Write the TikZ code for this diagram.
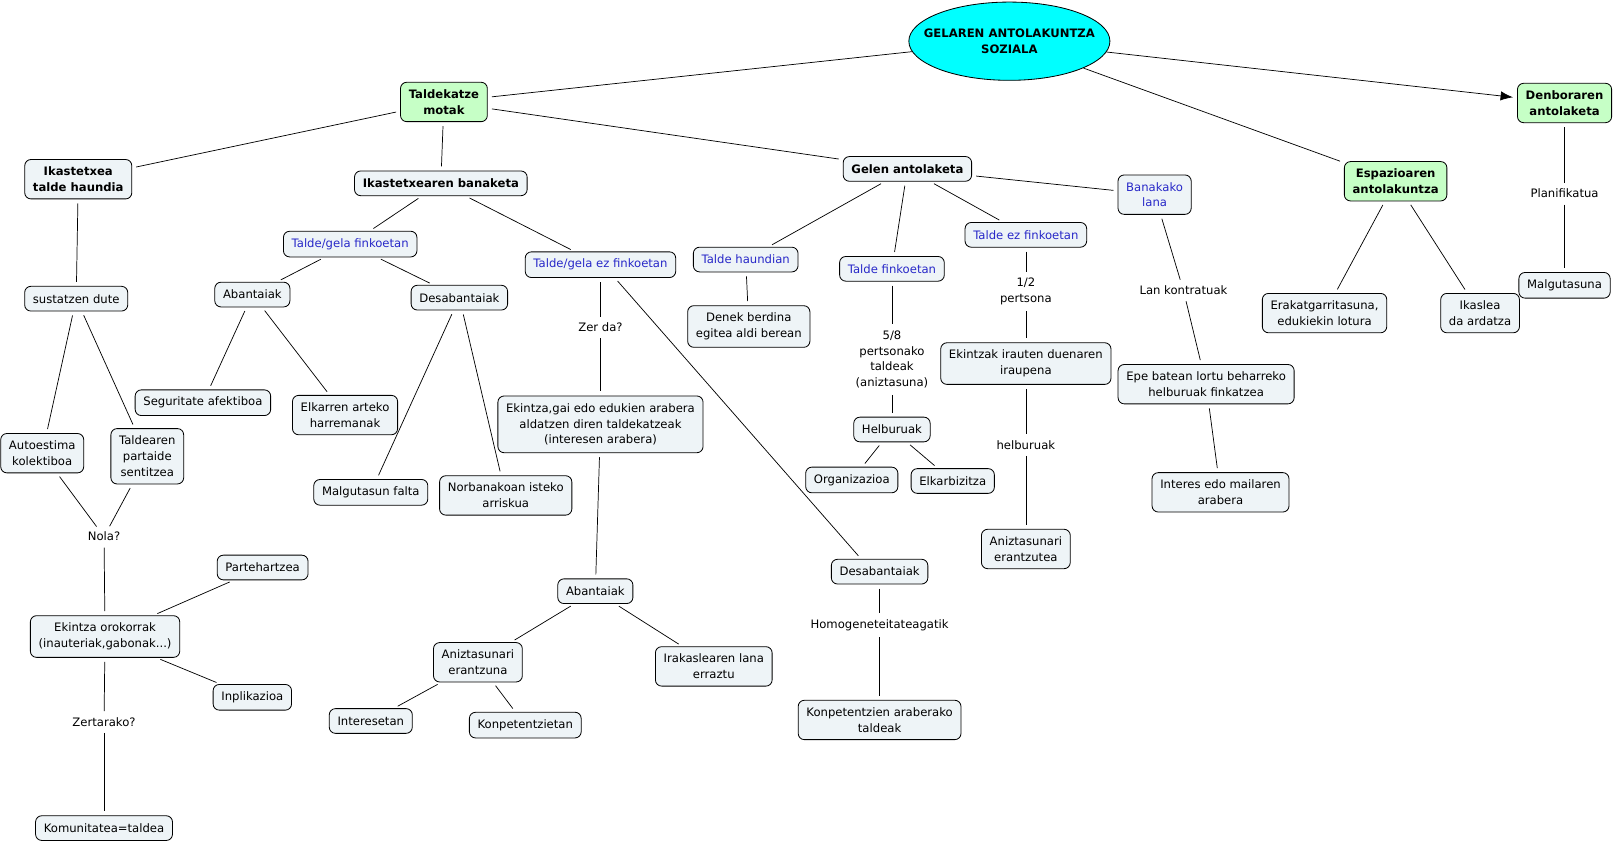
\documentclass[tikz,border=0pt]{standalone}
\usepackage{fontspec}
\setmainfont{DejaVu Sans}
\usepackage{xcolor}
\definecolor{Col1}{RGB}{0,255,255}
\definecolor{Col2}{RGB}{198,255,198}
\definecolor{Col3}{RGB}{238,244,247}
\definecolor{Col4}{RGB}{40,40,200}
\usepackage{tikz}
\usetikzlibrary{shapes}
\usetikzlibrary{arrows.meta}
\newcommand{\MapFont}{\fontsize{11.3}{15.5}\selectfont}
\tikzstyle{Root}=[ellipse,draw=black,fill=Col1,line width=0.8pt,
minimum width=195pt,minimum height=76pt,inner xsep=-14pt,inner ysep=0pt,
align=center,font=\MapFont\bfseries]
\tikzstyle{Concept}=[rectangle,rounded corners=6pt,draw=black,fill=Col3,
line width=0.8pt,align=center,inner xsep=8pt,inner ysep=7pt,
minimum height=24pt,font=\MapFont]
\tikzstyle{Topic}=[Concept,fill=Col2,font=\MapFont\bfseries]
\tikzstyle{Head}=[Concept,font=\MapFont\bfseries]
\tikzstyle{Case}=[Concept,text=Col4]
\tikzstyle{Link}=[align=center,inner sep=2pt,font=\MapFont]
\tikzstyle{Edge}=[draw=black,line width=0.7pt,shorten <=4pt,shorten >=4pt]

\begin{document}
\begin{tikzpicture}[x=1pt,y=-1pt]
        \useasboundingbox (0,0) rectangle (1568,818);
        \node[Root](root)at(980,40){GELAREN ANTOLAKUNTZA\\SOZIALA};
        \node[Topic](tm)at(431,99){Taldekatze\\motak};
        \node[Topic](da)at(1519,100){Denboraren\\antolaketa};
        \node[Topic](ea)at(1355,176){Espazioaren\\antolakuntza};
        \node[Head](ith)at(76,174){Ikastetxea\\talde haundia};
        \node[Head](ib)at(428,178){Ikastetxearen banaketa};
        \node[Head](ga)at(881,164){Gelen antolaketa};
        \node[Case](bl)at(1121,189){Banakako\\lana};
        \node[Case](tgf)at(340,237){Talde/gela finkoetan};
        \node[Case](tgez)at(583,257){Talde/gela ez finkoetan};
        \node[Case](th)at(724,252){Talde haundian};
        \node[Case](tf)at(866,261){Talde finkoetan};
        \node[Case](tez)at(996,228){Talde ez finkoetan};
        \node[Concept](ab1)at(245,286){Abantaiak};
        \node[Concept](ds1)at(446,289){Desabantaiak};
        \node[Concept](sd)at(74,290){sustatzen dute};
        \node[Concept](db)at(727,317){Denek berdina\\egitea aldi berean};
        \node[Concept](er)at(1286,304){Erakatgarritasuna,\\edukiekin lotura};
        \node[Concept](ik)at(1437,304){Ikaslea\\da ardatza};
        \node[Concept](mg)at(1519,277){Malgutasuna};
        \node[Concept](eki)at(996,353){Ekintzak irauten duenaren\\iraupena};
        \node[Concept](epe)at(1171,373){Epe batean lortu beharreko\\helburuak finkatzea};
        \node[Concept](sa)at(197,391){Seguritate afektiboa};
        \node[Concept](eh)at(335,403){Elkarren arteko\\harremanak};
        \node[Concept](egi)at(583,412){Ekintza,gai edo edukien arabera\\aldatzen diren taldekatzeak\\(interesen arabera)};
        \node[Concept](hb)at(866,417){Helburuak};
        \node[Concept](ak)at(41,440){Autoestima\\kolektiboa};
        \node[Concept](tps)at(143,443){Taldearen\\partaide\\sentitzea};
        \node[Concept](org)at(827,466){Organizazioa};
        \node[Concept](elk)at(925,467){Elkarbizitza};
        \node[Concept](mf)at(360,478){Malgutasun falta};
        \node[Concept](nia)at(491,481){Norbanakoan isteko\\arriskua};
        \node[Concept](iem)at(1185,478){Interes edo mailaren\\arabera};
        \node[Concept](ane)at(996,533){Aniztasunari\\erantzutea};
        \node[Concept](ds2)at(854,555){Desabantaiak};
        \node[Concept](ph)at(255,551){Partehartzea};
        \node[Concept](ab2)at(578,574){Abantaiak};
        \node[Concept](eo)at(102,618){Ekintza orokorrak\\(inauteriak,gabonak...)};
        \node[Concept](anz)at(464,643){Aniztasunari\\erantzuna};
        \node[Concept](ile)at(693,647){Irakaslearen lana\\erraztu};
        \node[Concept](inp)at(245,677){Inplikazioa};
        \node[Concept](int)at(360,700){Interesetan};
        \node[Concept](kon)at(510,704){Konpetentzietan};
        \node[Concept](kat)at(854,699){Konpetentzien araberako\\taldeak};
        \node[Concept](kt)at(101,804){Komunitatea=taldea};
        \node[Link](l1)at(1519,188){Planifikatua};
        \node[Link](l2)at(996,283){1/2\\pertsona};
        \node[Link](l3)at(1149,282){Lan kontratuak};
        \node[Link](l4)at(583,318){Zer da?};
        \node[Link](l5)at(866,349){5/8\\pertsonako\\taldeak\\(aniztasuna)};
        \node[Link](l6)at(996,432){helburuak};
        \node[Link](l7)at(101,521){Nola?};
        \node[Link](l8)at(854,607){Homogeneteitateagatik};
        \node[Link](l9)at(101,701){Zertarako?};
        \draw[Edge,shorten <=0pt](root)--(tm);
        \draw[Edge,shorten <=0pt,-{Latex[length=12pt,width=9pt]}](root)--(da);
        \draw[Edge,shorten <=0pt](root)--(ea);
        \draw[Edge](tm)--(ith);
        \draw[Edge](tm)--(ib);
        \draw[Edge](tm)--(ga);
        \draw[Edge](ga)--(th);
        \draw[Edge](ga)--(tf);
        \draw[Edge](ga)--(tez);
        \draw[Edge](ga)--(bl);
        \draw[Edge](ib)--(tgf);
        \draw[Edge](ib)--(tgez);
        \draw[Edge](tgf)--(ab1);
        \draw[Edge](tgf)--(ds1);
        \draw[Edge](ab1)--(sa);
        \draw[Edge](ab1)--(eh);
        \draw[Edge](ds1)--(mf);
        \draw[Edge](ds1)--(nia);
        \draw[Edge](tgez)--(l4);
        \draw[Edge](l4)--(egi);
        \draw[Edge]([xshift=14]tgez.south)--([xshift=-18]ds2.north);
        \draw[Edge](egi)--(ab2);
        \draw[Edge](ab2)--(anz);
        \draw[Edge](ab2)--(ile);
        \draw[Edge](anz)--(int);
        \draw[Edge](anz)--(kon);
        \draw[Edge](ds2)--(l8);
        \draw[Edge](l8)--(kat);
        \draw[Edge](th)--(db);
        \draw[Edge](tf)--(l5);
        \draw[Edge](l5)--(hb);
        \draw[Edge](hb)--(org);
        \draw[Edge](hb)--(elk);
        \draw[Edge](tez)--(l2);
        \draw[Edge](l2)--(eki);
        \draw[Edge](eki)--(l6);
        \draw[Edge](l6)--(ane);
        \draw[Edge](bl)--(l3);
        \draw[Edge](l3)--(epe);
        \draw[Edge](epe)--(iem);
        \draw[Edge](ea)--(er);
        \draw[Edge](ea)--(ik);
        \draw[Edge](da)--(l1);
        \draw[Edge](l1)--(mg);
        \draw[Edge](ith)--(sd);
        \draw[Edge](sd)--(ak);
        \draw[Edge](sd)--(tps);
        \draw[Edge](ak)--(l7);
        \draw[Edge](tps)--(l7);
        \draw[Edge](l7)--(eo);
        \draw[Edge](eo)--(ph);
        \draw[Edge](eo)--(inp);
        \draw[Edge](eo)--(l9);
        \draw[Edge](l9)--(kt);
    \end{tikzpicture}
\end{document}
